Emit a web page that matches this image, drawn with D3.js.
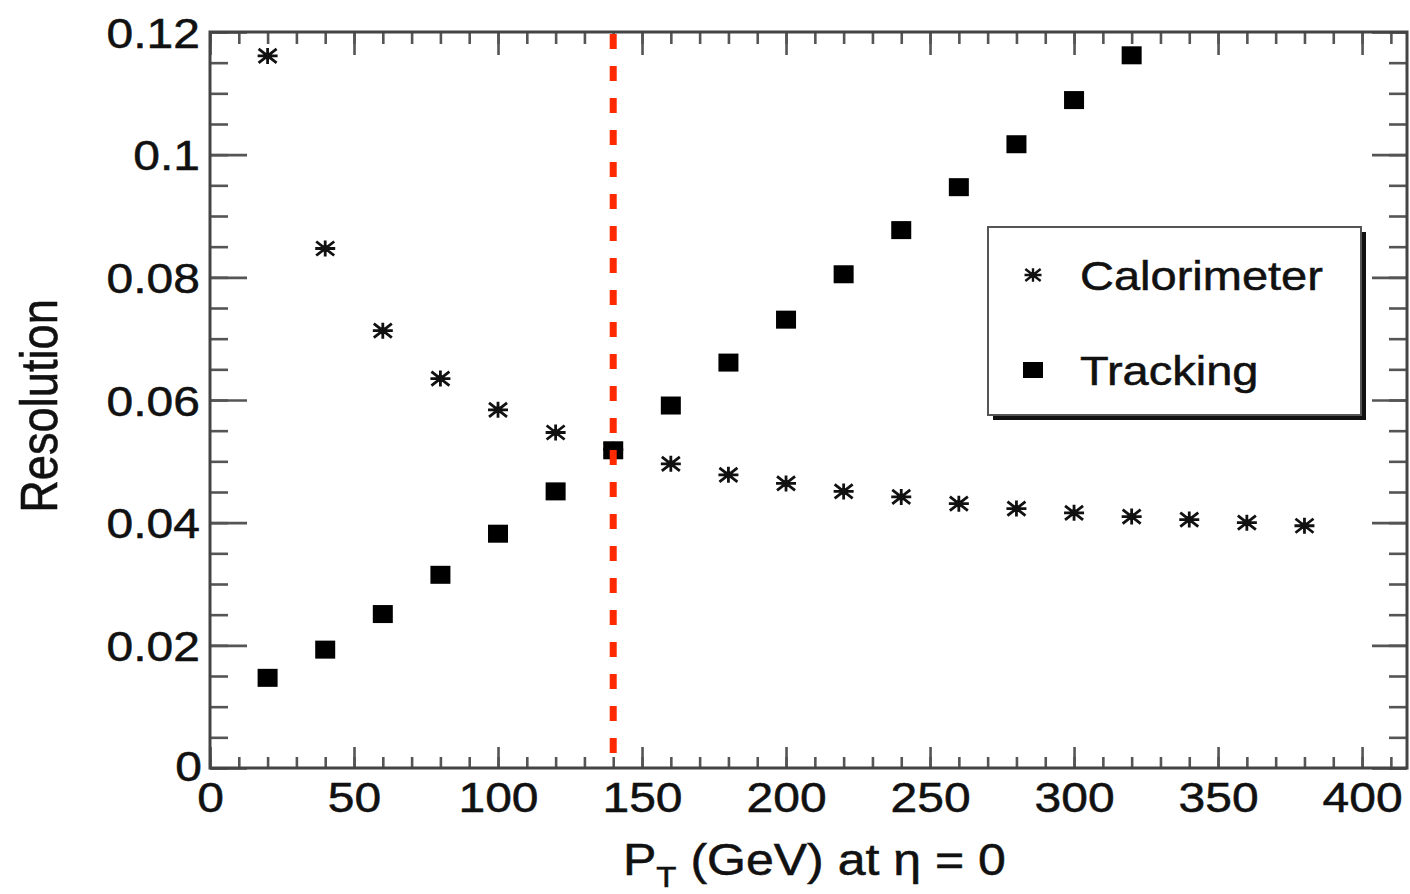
<!DOCTYPE html>
<html>
<head>
<meta charset="utf-8">
<script src="https://cdn.jsdelivr.net/npm/d3@7"></script>
<style>
  body { margin: 0; background: #fff; }
  text { font-family: "Liberation Sans", Arial, Helvetica, sans-serif; fill: #111; stroke: #111; stroke-width: 0.6; }
  .axis line { stroke: #555; stroke-width: 2.6; }
  .axis path { display: none; }
</style>
</head>
<body>
<div id="chart"></div>
<script>
// pT points (GeV)
var ptCalo = [20, 40, 60, 80, 100, 120, 140, 160, 180, 200, 220, 240, 260, 280, 300, 320, 340, 360, 380];
var resCalo = [0.1161, 0.0847, 0.0713, 0.0635, 0.0584, 0.0547, 0.0519, 0.0496, 0.0478, 0.0464, 0.0451,
  0.0442, 0.0431, 0.0423, 0.0416, 0.0410, 0.0405, 0.0400, 0.0395];
var ptTrack = [20, 40, 60, 80, 100, 120, 140, 160, 180, 200, 220, 240, 260, 280, 300, 320];
var resTrack = [0.0147, 0.0193, 0.0251, 0.0315, 0.0382, 0.0451, 0.0518, 0.0591, 0.0661, 0.0731, 0.0805,
  0.0877, 0.0947, 0.1017, 0.1089, 0.1162];
var xMajorTicks = [0, 50, 100, 150, 200, 250, 300, 350, 400];
var yMajorTicks = [0, 0.02, 0.04, 0.06, 0.08, 0.1, 0.12];
var cutValue = 140;
var legendNames = ['Calorimeter', 'Tracking'];

var margin = { top: 32, right: 3, bottom: 126, left: 210 },
  frame = { width: 1410, height: 894 },
  width = frame.width - margin.left - margin.right,
  height = frame.height - margin.top - margin.bottom,
  squash = 0.87; // glyphs in the picture are stretched sideways

var x = d3.scaleLinear().domain([0, 415.6]).range([0, width]);
var y = d3.scaleLinear().domain([0, 0.12]).range([height, 0]);

var svg = d3.select('#chart').append('svg')
  .attr('width', frame.width)
  .attr('height', frame.height)
  .append('g')
  .attr('transform', 'translate(' + margin.left + ',' + margin.top + ')');

var xMinor = d3.range(0, 416, 10);
var yMinor = d3.range(0, 0.1201, 0.005);

// bottom axis
var gx = svg.append('g').attr('class', 'axis')
  .attr('transform', 'translate(0,' + height + ')');
gx.append('g').call(d3.axisBottom(x).tickValues(xMinor).tickSize(-11).tickFormat(''));
gx.append('g').call(d3.axisBottom(x).tickValues(xMajorTicks).tickSize(-21).tickFormat(d3.format('d')))
  .selectAll('text')
  .attr('y', null).attr('dy', null)
  .attr('transform', 'translate(0,44) scale(1,' + squash + ')')
  .style('font-size', '48px');

// top axis
var gt = svg.append('g').attr('class', 'axis');
gt.append('g').call(d3.axisTop(x).tickValues(xMinor).tickSize(-12).tickFormat(''));
gt.append('g').call(d3.axisTop(x).tickValues(xMajorTicks).tickSize(-23).tickFormat(''));

// left axis
var gy = svg.append('g').attr('class', 'axis');
gy.append('g').call(d3.axisLeft(y).tickValues(yMinor).tickSize(-18).tickFormat(''));
gy.append('g').call(d3.axisLeft(y).tickValues(yMajorTicks).tickSize(-37).tickFormat(function (d) {
    return d === 0 ? '0' : String(+d.toFixed(2));
  }))
  .selectAll('text')
  .attr('x', null).attr('dy', null)
  .attr('transform', function (d) {
    return d === 0 ? 'translate(-8,12) scale(1,' + squash + ')' : 'translate(-10,15) scale(1,' + squash + ')';
  })
  .style('font-size', '48px');

// right axis
var gr = svg.append('g').attr('class', 'axis')
  .attr('transform', 'translate(' + width + ',0)');
gr.append('g').call(d3.axisRight(y).tickValues(yMinor).tickSize(-18).tickFormat(''));
gr.append('g').call(d3.axisRight(y).tickValues(yMajorTicks).tickSize(-35).tickFormat(''));

// frame
svg.append('rect')
  .attr('width', width).attr('height', height)
  .attr('fill', 'none').attr('stroke', '#444').attr('stroke-width', 3);

// axis titles
svg.append('text')
  .attr('transform', 'translate(' + (623 - margin.left) + ',' + (875 - margin.top) + ') scale(1,' + squash + ')')
  .style('font-size', '50px')
  .call(function (t) {
    t.append('tspan').text('P');
    t.append('tspan').attr('dy', 14).style('font-size', '33px').text('T');
    t.append('tspan').attr('dy', -14).text(' (GeV) at \u03b7 = 0');
  });

svg.append('text')
  .attr('transform', 'translate(' + (57 - margin.left) + ',' + (406 - margin.top) + ') scale(1,' + squash + ') rotate(-90)')
  .attr('text-anchor', 'middle')
  .style('font-size', '52px')
  .text('Resolution');

function asterisk(sel) {
  sel.append('path')
    .attr('d', 'M-10,0H10M0,-8V8M-9,-7L9,7M-9,7L9,-7')
    .attr('stroke', '#111').attr('stroke-width', 2.8).attr('fill', 'none');
  sel.append('circle').attr('r', 3.5).attr('fill', '#111');
}
function square(sel) {
  sel.append('rect')
    .attr('x', -10).attr('y', -9).attr('width', 20).attr('height', 18)
    .attr('fill', '#000');
}

// calorimeter points
svg.append('g').selectAll('g')
  .data(ptCalo)
  .enter().append('g')
  .attr('transform', function (d, i) { return 'translate(' + x(d) + ',' + y(resCalo[i]) + ')'; })
  .call(asterisk);

// tracking points
svg.append('g').selectAll('g')
  .data(ptTrack)
  .enter().append('g')
  .attr('transform', function (d, i) { return 'translate(' + x(d) + ',' + y(resTrack[i]) + ')'; })
  .call(square);

// cut line
svg.append('line')
  .attr('x1', x(cutValue)).attr('x2', x(cutValue))
  .attr('y1', 2).attr('y2', height)
  .attr('stroke', '#ff2a00').attr('stroke-width', 7)
  .attr('stroke-dasharray', '15 17');

// legend
var legend = svg.append('g')
  .attr('transform', 'translate(' + (988 - margin.left) + ',' + (227 - margin.top) + ')');
legend.append('rect')
  .attr('x', 5).attr('y', 5).attr('width', 373).attr('height', 188)
  .attr('fill', '#111');
legend.append('rect')
  .attr('width', 373).attr('height', 188)
  .attr('fill', '#fff').attr('stroke', '#555').attr('stroke-width', 2);

var entries = legend.selectAll('g.entry')
  .data(legendNames)
  .enter().append('g')
  .attr('class', 'entry')
  .attr('transform', function (d, i) { return 'translate(0,' + (i === 0 ? 48 : 143) + ')'; });
entries.append('g')
  .attr('transform', 'translate(45,0)')
  .each(function (d, i) {
    var g = d3.select(this);
    if (i === 0) {
      g.attr('transform', 'translate(45,0) scale(0.85)');
      asterisk(g);
    } else {
      g.append('rect').attr('x', -10).attr('y', -8).attr('width', 20).attr('height', 16).attr('fill', '#000');
    }
  });
entries.append('text')
  .attr('transform', 'translate(92,15) scale(1,' + squash + ')')
  .style('font-size', '47px')
  .text(function (d) { return d; });
</script>
</body>
</html>
